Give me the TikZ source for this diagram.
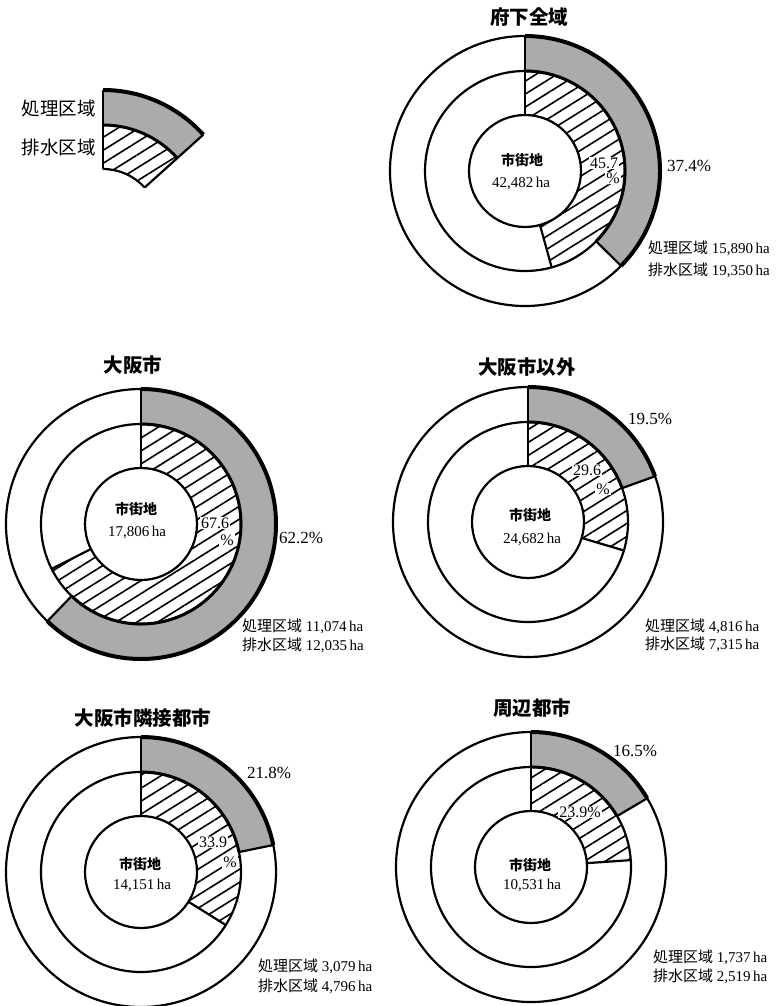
\documentclass[tikz,border=0pt]{standalone}
\usepackage{fontspec}
\setmainfont{Liberation Serif}
\newfontfamily\jp{Noto Sans CJK JP}
\usetikzlibrary{patterns.meta}
\tikzset{
  ln/.style={line width=2.2pt},
  thk/.style={line width=4pt},
  grayfill/.style={fill=black!33},
  hatchfill/.style={pattern={Lines[angle=32,distance=11pt,line width=1.6pt]}},
  lab/.style={font=\fontsize{15}{15}\selectfont, inner sep=0pt, anchor=west},
  pct/.style={font=\fontsize{17}{17}\selectfont, inner sep=0pt},
  wpct/.style={font=\fontsize{16}{16}\selectfont, inner sep=1pt, fill=white},
  ttl/.style={font=\fontsize{19.5}{20}\selectfont\jp\bfseries, inner sep=0pt},
  cen/.style={font=\fontsize{15}{15}\selectfont, inner sep=0pt},
  cenj/.style={font=\fontsize{14}{14}\selectfont\jp\bfseries, inner sep=0pt},
  leg/.style={font=\fontsize{18.5}{19}\selectfont\jp, inner sep=0pt, anchor=east}
}
\newcommand\donut[4]{% cx, cy, hatch %, gray %
  \pgfmathsetmacro\hang{-90+3.6*#3}%
  \pgfmathsetmacro\gang{-90+3.6*#4}%
  \fill[grayfill] ([shift={(#1,#2)}]-90:135) arc[start angle=-90,end angle=\gang,radius=135]
     -- ([shift={(#1,#2)}]\gang:100) arc[start angle=\gang,end angle=-90,radius=100] -- cycle;
  \fill[hatchfill] ([shift={(#1,#2)}]-90:100) arc[start angle=-90,end angle=\hang,radius=100]
     -- ([shift={(#1,#2)}]\hang:56) arc[start angle=\hang,end angle=-90,radius=56] -- cycle;
  \draw[ln] (#1,#2) circle[radius=56] (#1,#2) circle[radius=100] (#1,#2) circle[radius=135];
  \draw[ln] ([shift={(#1,#2)}]-90:56) -- ([shift={(#1,#2)}]-90:135);
  \draw[ln] ([shift={(#1,#2)}]\hang:56) -- ([shift={(#1,#2)}]\hang:100);
  \draw[ln] ([shift={(#1,#2)}]\gang:100) -- ([shift={(#1,#2)}]\gang:135);
  \draw[thk] ([shift={(#1,#2)}]-90:135) arc[start angle=-90,end angle=\gang,radius=135];
  \draw[line width=3pt] ([shift={(#1,#2)}]-90:100) arc[start angle=-90,end angle=\gang,radius=100];
}
\begin{document}
\begin{tikzpicture}[x=1pt,y=-1pt]
\useasboundingbox (0,0) rectangle (778,1006);
\fill[white] (0,0) rectangle (778,1006);

% legend
\fill[grayfill] ([shift={(103,225)}]-90:135) arc[start angle=-90,end angle=-42,radius=135]
   -- ([shift={(103,225)}]-42:100) arc[start angle=-42,end angle=-90,radius=100] -- cycle;
\fill[hatchfill] ([shift={(103,225)}]-90:100) arc[start angle=-90,end angle=-42,radius=100]
   -- ([shift={(103,225)}]-42:56) arc[start angle=-42,end angle=-90,radius=56] -- cycle;
\draw[ln] ([shift={(103,225)}]-90:56) -- ([shift={(103,225)}]-90:135);
\draw[ln] ([shift={(103,225)}]-42:56) -- ([shift={(103,225)}]-42:135);
\draw[thk] ([shift={(103,225)}]-90:135) arc[start angle=-90,end angle=-42,radius=135];
\draw[line width=3pt] ([shift={(103,225)}]-90:100) arc[start angle=-90,end angle=-42,radius=100];
\draw[ln] ([shift={(103,225)}]-90:56) arc[start angle=-90,end angle=-42,radius=56];
\node[leg] (lg1) at (96,108) {処理区域};
\node[leg] (lg2) at (96,147) {排水区域};

% chart 1
\donut{525}{171}{45.7}{37.4}
\node[ttl] (t1) at (529,17) {府下全域};
\node[cenj] (c1a) at (522,160) {市街地};
\node[cen] (c1b) at (521,183) {42,482\,ha};
\node[wpct] (h1a) at (604,163) {45.7};
\node[wpct] (h1b) at (613,178) {\%};
\node[pct,anchor=west] (g1) at (667,166) {37.4\%};
\node[lab] (a1) at (648,248) {{\jp 処理区域} 15,890\,ha};
\node[lab] (b1) at (648,270) {{\jp 排水区域} 19,350\,ha};

% chart 2
\donut{141}{524}{67.6}{62.2}
\node[ttl] (t2) at (133,365) {大阪市};
\node[cenj] (c2a) at (136,509) {市街地};
\node[cen] (c2b) at (137,532) {17,806\,ha};
\node[wpct] (h2a) at (215,523) {67.6};
\node[wpct] (h2b) at (227,540) {\%};
\node[pct,anchor=west] (g2) at (279,538) {62.2\%};
\node[lab] (a2) at (242,626) {{\jp 処理区域} 11,074\,ha};
\node[lab] (b2) at (242,645) {{\jp 排水区域} 12,035\,ha};

% chart 3
\donut{528}{522}{29.6}{19.5}
\node[ttl] (t3) at (527,367) {大阪市以外};
\node[cenj] (c3a) at (530,515) {市街地};
\node[cen] (c3b) at (532,539) {24,682\,ha};
\node[wpct] (h3a) at (587,470) {29.6};
\node[wpct] (h3b) at (603,489) {\%};
\node[pct,anchor=west] (g3) at (628,419) {19.5\%};
\node[lab] (a3) at (645,626) {{\jp 処理区域} 4,816\,ha};
\node[lab] (b3) at (645,644) {{\jp 排水区域} 7,315\,ha};

% chart 4
\donut{141}{872}{33.9}{21.8}
\node[ttl] (t4) at (143,718) {大阪市隣接都市};
\node[cenj] (c4a) at (140,864) {市街地};
\node[cen] (c4b) at (142,885) {14,151\,ha};
\node[wpct] (h4a) at (213,842) {33.9};
\node[wpct] (h4b) at (230,862) {\%};
\node[pct,anchor=west] (g4) at (247,773) {21.8\%};
\node[lab] (a4) at (258,966) {{\jp 処理区域} 3,079\,ha};
\node[lab] (b4) at (258,986) {{\jp 排水区域} 4,796\,ha};

% chart 5
\donut{531}{867}{23.9}{16.5}
\node[ttl] (t5) at (532,708) {周辺都市};
\node[cenj] (c5a) at (530,865) {市街地};
\node[cen] (c5b) at (532,885) {10,531\,ha};
\node[wpct] (h5a) at (580,812) {23.9\%};
\node[pct,anchor=west] (g5) at (613,751) {16.5\%};
\node[lab] (a5) at (653,957) {{\jp 処理区域} 1,737\,ha};
\node[lab] (b5) at (653,976) {{\jp 排水区域} 2,519\,ha};
\end{tikzpicture}
\end{document}
